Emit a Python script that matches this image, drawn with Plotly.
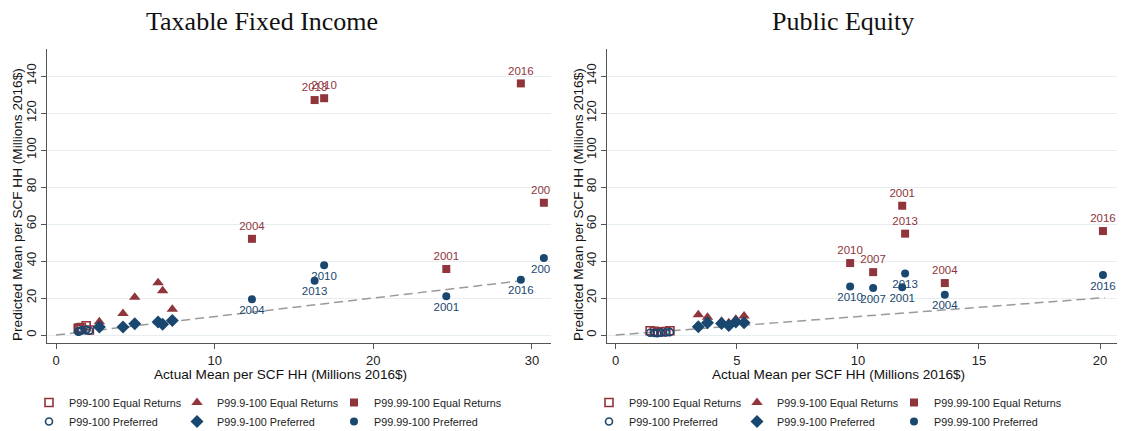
import plotly.graph_objects as go

# ---- data (millions of 2016 dollars) ----
years = [2001, 2004, 2007, 2010, 2013, 2016]

# Taxable Fixed Income
tfi_p99_x = [1.4, 1.5, 1.6, 1.9, 2.1, 1.45]
tfi_p99_eq = [3.5, 3.0, 4.0, 5.0, 2.7, 3.8]
tfi_p99_pref = [1.8, 2.2, 2.5, 2.8, 2.3, 2.0]
tfi_p999_x = [2.73, 4.22, 4.96, 6.43, 6.72, 7.33]
tfi_p999_eq = [7.2, 11.7, 20.4, 28.3, 24.0, 14.0]
tfi_p999_pref = [4.3, 4.3, 6.1, 7.0, 5.8, 7.9]
tfi_p9999_x = [24.6, 12.35, 30.75, 16.9, 16.3, 29.3]
tfi_p9999_eq = [35.7, 52.0, 71.5, 128.0, 127.0, 136.0]
tfi_p9999_pref = [21.0, 19.3, 41.6, 37.7, 29.4, 29.9]
tfi_diag = [0, 29.6]

# Public Equity
peq_p99_x = [1.42, 1.72, 1.86, 2.07, 2.24, 1.6]
peq_p99_eq = [2.3, 1.6, 1.8, 1.9, 2.3, 2.0]
peq_p99_pref = [1.2, 1.0, 1.3, 1.4, 1.6, 1.1]
peq_p999_x = [3.41, 3.79, 4.37, 4.67, 4.96, 5.30]
peq_p999_eq = [11.0, 9.6, 7.4, 6.7, 8.5, 10.3]
peq_p999_pref = [4.5, 6.6, 6.3, 5.2, 7.0, 6.6]
peq_p9999_x = [11.83, 13.59, 10.63, 9.68, 11.95, 20.12]
peq_p9999_eq = [69.9, 28.1, 34.0, 38.9, 54.8, 56.2]
peq_p9999_pref = [25.8, 21.8, 25.4, 26.3, 33.3, 32.4]
peq_diag = [0, 20.2]

y_ticks = [0, 20, 40, 60, 80, 100, 120, 140]
tfi_x_ticks = [0, 10, 20, 30]
peq_x_ticks = [0, 5, 10, 15, 20]

RED = "#90353B"
BLUE = "#1A476F"
SANS = "Liberation Sans, Arial, sans-serif"
SERIF = "Liberation Serif, Times New Roman, serif"
W, H = 1122, 431

fig = go.Figure()


def add_panel(xa, ya, p99x, p99eq, p99pref, p999x, p999eq, p999pref,
              p9999x, p9999eq, p9999pref, diag, legs):
    # 45-degree reference line
    fig.add_trace(go.Scatter(x=diag, y=diag, mode="lines", xaxis=xa, yaxis=ya,
                             line=dict(color="#9a9a9a", width=1.5, dash="9px,5px"),
                             showlegend=False, hoverinfo="skip"))
    common = dict(xaxis=xa, yaxis=ya, cliponaxis=True)
    # one legend column per percentile group: Equal Returns above Preferred
    fig.add_trace(go.Scatter(x=p99x, y=p99eq, mode="markers", name="P99-100 Equal Returns",
                             marker=dict(symbol="square-open", size=8, color=RED, line=dict(width=1.6, color=RED)),
                             legend=legs[0], **common))
    fig.add_trace(go.Scatter(x=p99x, y=p99pref, mode="markers", name="P99-100 Preferred",
                             marker=dict(symbol="circle-open", size=7, color=BLUE, line=dict(width=1.6, color=BLUE)),
                             legend=legs[0], **common))
    fig.add_trace(go.Scatter(x=p999x, y=p999eq, mode="markers", name="P99.9-100 Equal Returns",
                             marker=dict(symbol="triangle-up", size=10, color=RED),
                             legend=legs[1], **common))
    fig.add_trace(go.Scatter(x=p999x, y=p999pref, mode="markers", name="P99.9-100 Preferred",
                             marker=dict(symbol="diamond", size=10, color=BLUE),
                             legend=legs[1], **common))
    fig.add_trace(go.Scatter(x=p9999x, y=p9999eq, mode="markers+text", name="P99.99-100 Equal Returns",
                             marker=dict(symbol="square", size=8, color=RED),
                             text=[str(y) for y in years], textposition="top center",
                             textfont=dict(family=SANS, size=11.5, color=RED),
                             legend=legs[2], **common))
    fig.add_trace(go.Scatter(x=p9999x, y=p9999pref, mode="markers+text", name="P99.99-100 Preferred",
                             marker=dict(symbol="circle", size=8, color=BLUE),
                             text=[str(y) for y in years], textposition="bottom center",
                             textfont=dict(family=SANS, size=11.5, color=BLUE),
                             legend=legs[2], **common))


add_panel("x", "y", tfi_p99_x, tfi_p99_eq, tfi_p99_pref, tfi_p999_x, tfi_p999_eq, tfi_p999_pref,
          tfi_p9999_x, tfi_p9999_eq, tfi_p9999_pref, tfi_diag, ["legend", "legend2", "legend3"])
add_panel("x2", "y2", peq_p99_x, peq_p99_eq, peq_p99_pref, peq_p999_x, peq_p999_eq, peq_p999_pref,
          peq_p9999_x, peq_p9999_eq, peq_p9999_pref, peq_diag, ["legend4", "legend5", "legend6"])

axis_font = dict(family=SANS, size=13, color="#222")
xcommon = dict(showline=True, linecolor="#555", linewidth=1, ticks="outside", ticklen=5,
               tickcolor="#555", showgrid=False, zeroline=False, tickfont=axis_font)
ycommon = dict(showline=True, linecolor="#555", linewidth=1, ticks="outside", ticklen=5,
               tickcolor="#555", showgrid=True, gridcolor="#e6eef0", gridwidth=1,
               zeroline=False, tickfont=axis_font, tickangle=-90,
               tickvals=y_ticks, range=[-4.3, 154.6])

y0 = 1 - 343 / H
y1 = 1 - 49 / H


def legend_at(px, py):
    return dict(orientation="v", x=px / W, y=1 - py / H, xanchor="left", yanchor="top",
                font=dict(family=SANS, size=10.8, color="#222"),
                bgcolor="rgba(0,0,0,0)", itemwidth=30, tracegroupgap=0)


leg_top = 388
fig.update_layout(
    width=W, height=H,
    margin=dict(l=0, r=0, t=0, b=0, autoexpand=False),
    paper_bgcolor="white", plot_bgcolor="white",
    xaxis=dict(domain=[47 / W, 551 / W], range=[-0.57, 31.2], tickvals=tfi_x_ticks, anchor="y", **xcommon),
    yaxis=dict(domain=[y0, y1], anchor="x", **ycommon),
    xaxis2=dict(domain=[607 / W, 1117 / W], range=[-0.36, 20.7], tickvals=peq_x_ticks, anchor="y2", **xcommon),
    yaxis2=dict(domain=[y0, y1], anchor="x2", **ycommon),
    legend=legend_at(29, leg_top),
    legend2=legend_at(177, leg_top),
    legend3=legend_at(334, leg_top),
    legend4=legend_at(589, leg_top),
    legend5=legend_at(737, leg_top),
    legend6=legend_at(894, leg_top),
    showlegend=True,
)

titles = [
    ("Taxable Fixed Income", 262, 22, SERIF, 26, 0),
    ("Public Equity", 843, 22, SERIF, 26, 0),
    ("Actual Mean per SCF HH (Millions 2016$)", 280, 374, SANS, 13.6, 0),
    ("Actual Mean per SCF HH (Millions 2016$)", 838, 374, SANS, 13.6, 0),
    ("Predicted Mean per SCF HH (Millions 2016$)", 17, 205, SANS, 13.6, -90),
    ("Predicted Mean per SCF HH (Millions 2016$)", 578, 205, SANS, 13.6, -90),
]
for txt, px, py, fam, sz, ang in titles:
    fig.add_annotation(text=txt, x=px / W, y=1 - py / H, xref="paper", yref="paper",
                       xanchor="center", yanchor="middle", showarrow=False, textangle=ang,
                       font=dict(family=fam, size=sz, color="#111"))

fig.write_html("out.html")
